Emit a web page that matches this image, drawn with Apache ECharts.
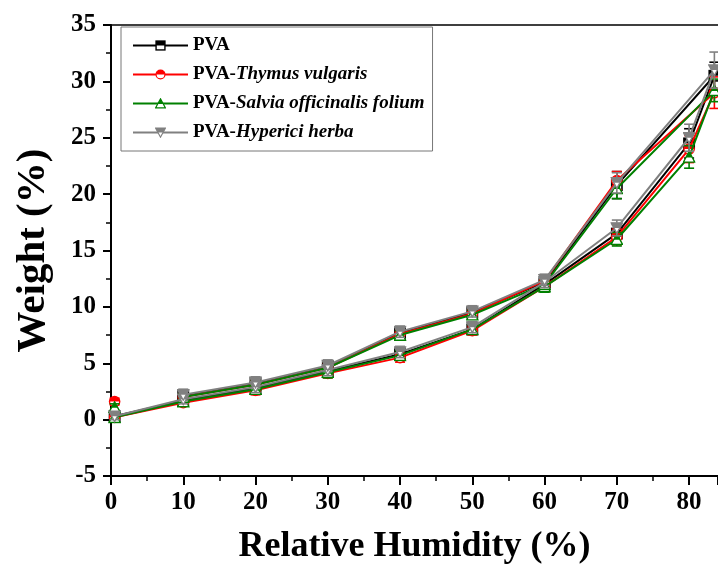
<!DOCTYPE html>
<html>
<head>
<meta charset="utf-8">
<script src="https://cdn.jsdelivr.net/npm/echarts@6/dist/echarts.min.js"></script>
<style>
html, body { margin: 0; padding: 0; background: #fff; }
#chart { width: 718px; height: 570px; }
</style>
</head>
<body>
<div id="chart"></div>
<script>
// sorption loop: adsorption up to ~84 %RH, then desorption back down to 10 %RH
var rh = [0.5, 10, 20, 30, 40, 50, 60, 70, 80, 83.5, 70, 60, 50, 40, 30, 20, 10];

var pva      = [0.3, 1.7, 2.8, 4.3, 5.8, 8.0, 12.0, 16.5, 24.5, 30.5, 20.8, 12.2, 9.5, 7.7, 4.7, 3.2, 2.1];
var pvaErr   = [0.3, 0.4, 0.4, 0.4, 0.4, 0.4, 0.5, 0.8, 1.3, 1.2, 1.2, 0.5, 0.5, 0.4, 0.4, 0.4, 0.4];
var thymus   = [0.2, 1.5, 2.6, 4.1, 5.5, 7.9, 11.8, 16.2, 24.0, 29.0, 21.2, 12.3, 9.4, 7.6, 4.6, 3.1, 2.0];
var thymErr  = [0.3, 0.3, 0.4, 0.4, 0.4, 0.4, 0.5, 0.7, 1.2, 1.4, 0.8, 0.5, 0.4, 0.4, 0.4, 0.4, 0.3];
var salvia   = [0.2, 1.6, 2.7, 4.2, 5.7, 8.0, 11.8, 16.0, 23.3, 29.2, 20.5, 12.0, 9.3, 7.5, 4.6, 3.1, 2.0];
var salvErr  = [0.3, 0.4, 0.4, 0.5, 0.4, 0.4, 0.5, 0.6, 1.0, 1.0, 0.9, 0.5, 0.4, 0.4, 0.5, 0.4, 0.3];
var hyperici = [0.3, 1.8, 2.9, 4.4, 6.0, 8.2, 12.2, 17.0, 25.0, 31.0, 21.0, 12.4, 9.6, 7.8, 4.8, 3.3, 2.2];
var hypErr   = [0.3, 0.4, 0.5, 0.5, 0.5, 0.5, 0.5, 0.7, 1.2, 1.6, 0.9, 0.5, 0.5, 0.5, 0.5, 0.5, 0.5];

// lone points near 0 %RH (not joined to the loop)
var rhDry = 0.5;
var dryW = [null, 1.6, 1.1, null];
var dryErr = [0.3, 0.3, 0.3, 0.3];

var names = ['PVA', 'PVA-Thymus vulgaris', 'PVA-Salvia officinalis folium', 'PVA-Hyperici herba'];
var colors = ['#000000', '#ff0000', '#008000', '#808080'];
var values = [pva, thymus, salvia, hyperici];
var errors = [pvaErr, thymErr, salvErr, hypErr];

var font = 'Liberation Serif, Times New Roman, serif';

// half filled markers (top half filled, bottom white)
function svgIcon(body) {
    var s = "<svg xmlns='http://www.w3.org/2000/svg' width='24' height='24' viewBox='0 0 24 24'>" + body + "</svg>";
    return 'image://data:image/svg+xml;charset=utf-8,' + encodeURIComponent(s);
}
var symbols = [
    svgIcon("<rect x='2.5' y='2.5' width='19' height='19' fill='white' stroke='#000' stroke-width='3'/><rect x='2.5' y='2.5' width='19' height='9.5' fill='#000'/>"),
    svgIcon("<circle cx='12' cy='12' r='9.5' fill='white' stroke='#f00' stroke-width='2.5'/><path d='M2.5 12 A9.5 9.5 0 0 1 21.5 12 Z' fill='#f00'/>"),
    svgIcon("<polygon points='12,2 22.5,21.5 1.5,21.5' fill='white' stroke='#008000' stroke-width='2.5'/><path d='M12 2 L18 13 L6 13 Z' fill='#008000'/>"),
    svgIcon("<polygon points='1.5,2.5 22.5,2.5 12,22' fill='white' stroke='#808080' stroke-width='2.5'/><path d='M1.5 2.5 L22.5 2.5 L17.3 12 L6.7 12 Z' fill='#808080'/>")
];

function errorBars(color) {
    return function (params, api) {
        var x = api.value(0), y = api.value(1), e = api.value(2);
        var top = api.coord([x, y + e]);
        var bot = api.coord([x, y - e]);
        var hw = 5;
        var st = { stroke: color, lineWidth: 1.6 };
        return {
            type: 'group',
            children: [
                { type: 'line', shape: { x1: top[0], y1: top[1], x2: bot[0], y2: bot[1] }, style: st },
                { type: 'line', shape: { x1: top[0] - hw, y1: top[1], x2: top[0] + hw, y2: top[1] }, style: st },
                { type: 'line', shape: { x1: bot[0] - hw, y1: bot[1], x2: bot[0] + hw, y2: bot[1] }, style: st }
            ]
        };
    };
}

var series = [];
for (var k = 0; k < names.length; k++) {
    var pts = [], bars = [];
    for (var i = 0; i < rh.length; i++) {
        pts.push([rh[i], values[k][i]]);
        bars.push([rh[i], values[k][i], errors[k][i]]);
    }
    if (dryW[k] != null) {
        pts.push('-');
        pts.push([rhDry, dryW[k]]);
        bars.push([rhDry, dryW[k], dryErr[k]]);
    }
    series.push({
        name: names[k],
        type: 'line',
        data: pts,
        symbol: symbols[k],
        symbolSize: 13,
        showAllSymbol: true,
        connectNulls: false,
        color: colors[k],
        lineStyle: { color: colors[k], width: 2 },
        z: 3 + k
    });
    series.push({
        type: 'custom',
        data: bars,
        encode: { x: 0, y: 1 },
        renderItem: errorBars(colors[k]),
        silent: true,
        z: 3 + k
    });
}

var chart = echarts.init(document.getElementById('chart'));
chart.setOption({
    animation: false,
    backgroundColor: '#fff',
    grid: { left: 111, right: 0, top: 25, bottom: 89 },
    legend: {
        data: names,
        orient: 'vertical',
        left: 121,
        top: 27,
        padding: [9, 8, 9, 11],
        itemGap: 10,
        itemWidth: 55,
        itemHeight: 14,
        borderColor: '#777',
        borderWidth: 1,
        formatter: function (name) {
            var p = name.indexOf('-');
            if (p < 0) return '{b|' + name + '}';
            return '{b|' + name.slice(0, p + 1) + '}{i|' + name.slice(p + 1) + '}';
        },
        textStyle: {
            rich: {
                b: { fontFamily: font, fontWeight: 'bold', fontSize: 19, color: '#000', lineHeight: 22 },
                i: { fontFamily: font, fontWeight: 'bold', fontStyle: 'italic', fontSize: 19, color: '#000', lineHeight: 22 }
            }
        }
    },
    xAxis: [{
        type: 'value',
        min: 0,
        max: 84,
        interval: 10,
        name: 'Relative Humidity (%)',
        nameLocation: 'middle',
        nameGap: 53,
        nameTextStyle: { fontFamily: font, fontWeight: 'bold', fontSize: 36, color: '#000' },
        axisLine: { onZero: false, lineStyle: { color: '#000', width: 2 } },
        axisTick: { inside: false, length: 9, lineStyle: { color: '#000', width: 2 } },
        minorTick: { show: true, splitNumber: 2, length: 5, lineStyle: { color: '#000', width: 1.5 } },
        axisLabel: { showMaxLabel: false, margin: 14, fontFamily: font, fontWeight: 'bold', fontSize: 25, color: '#000' },
        splitLine: { show: false }
    }, {
        type: 'value',
        position: 'top',
        min: 0,
        max: 84,
        axisLine: { show: true, onZero: false, lineStyle: { color: '#000', width: 1.5 } },
        axisTick: { show: false },
        axisLabel: { show: false },
        splitLine: { show: false }
    }],
    yAxis: {
        type: 'value',
        min: -5,
        max: 35,
        interval: 5,
        name: 'Weight (%)',
        nameLocation: 'middle',
        nameGap: 57,
        nameTextStyle: { fontFamily: font, fontWeight: 'bold', fontSize: 41, color: '#000' },
        axisLine: { show: true, onZero: false, lineStyle: { color: '#000', width: 2 } },
        axisTick: { show: true, inside: false, length: 8, lineStyle: { color: '#000', width: 2 } },
        minorTick: { show: true, splitNumber: 2, length: 5, lineStyle: { color: '#000', width: 1.5 } },
        axisLabel: { margin: 15, fontFamily: font, fontWeight: 'bold', fontSize: 25, color: '#000' },
        splitLine: { show: false }
    },
    series: series
});
</script>
</body>
</html>
